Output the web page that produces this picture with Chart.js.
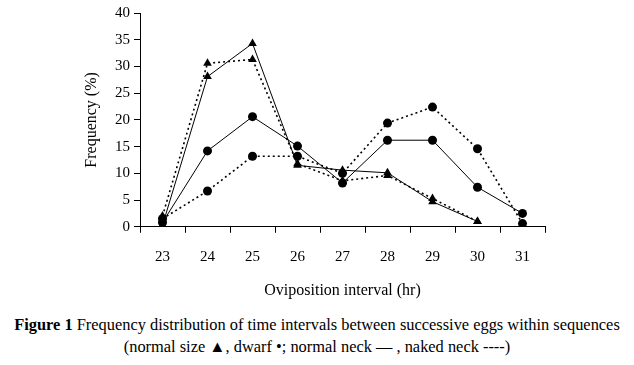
<!DOCTYPE html>
<html>
<head>
    <meta charset="utf-8">
    <title>Oviposition interval</title>
    <script src="https://cdn.jsdelivr.net/npm/chart.js@4/dist/chart.umd.min.js"></script>
    <style>
        body {
            margin: 0;
            background: #fff;
            font-family: "Liberation Serif", "Times New Roman", serif;
        }
        #wrap {
            width: 634px;
            height: 305px;
        }
        .caption {
            width: 634px;
            text-align: center;
            font-size: 16.4px;
            line-height: 22px;
            color: #000;
            margin-top: 9px;
        }
    </style>
</head>
<body>
    <div id="wrap">
        <canvas id="c1" width="634" height="305"></canvas>
    </div>
    <div class="caption">
        <b>Figure 1</b> Frequency distribution of time intervals between successive eggs within sequences<br>
        (normal size &#9650;, dwarf &#8226;; normal neck &mdash; , naked neck ----)
    </div>

    <script>
        // oviposition interval (hr)
        var labels = ["23", "24", "25", "26", "27", "28", "29", "30", "31"];

        // frequency (%)
        var normalSizeNormalNeck = [0.3, 28.1, 34.3, 11.5, 10.6, 10.1, 4.7, 1.0, null];
        var normalSizeNakedNeck = [2.0, 30.6, 31.3, 11.8, 8.6, 9.6, 5.3, 1.0, null];
        var dwarfNormalNeck = [0.8, 14.2, 20.6, 15.1, 8.2, 16.2, 16.2, 7.4, 2.5];
        var dwarfNakedNeck = [1.5, 6.7, 13.2, 13.2, 10.0, 19.4, 22.4, 14.6, 0.6];

        var yTicks = [0, 5, 10, 15, 20, 25, 30, 35, 40];

        var serif = "'Liberation Serif', 'Times New Roman', serif";

        function series(data, point, dashed) {
            return {
                data: data,
                borderColor: "#000",
                backgroundColor: "#000",
                borderWidth: dashed ? 1.6 : 1,
                borderDash: dashed ? [2, 3] : [],
                pointStyle: point,
                pointRadius: point === "triangle" ? 5 : 4.5,
                pointBorderWidth: 0,
                fill: false,
                tension: 0,
                spanGaps: false
            };
        }

        new Chart(document.getElementById("c1"), {
            type: "line",
            data: {
                labels: labels,
                datasets: [
                    series(normalSizeNormalNeck, "triangle", false),
                    series(normalSizeNakedNeck, "triangle", true),
                    series(dwarfNormalNeck, "circle", false),
                    series(dwarfNakedNeck, "circle", true)
                ]
            },
            options: {
                responsive: false,
                animation: false,
                layout: {
                    padding: { left: 82, right: 89, top: 12, bottom: 5 }
                },
                plugins: {
                    legend: { display: false },
                    tooltip: { enabled: false }
                },
                scales: {
                    x: {
                        offset: true,
                        grid: {
                            display: true,
                            offset: true,
                            drawOnChartArea: false,
                            drawTicks: true,
                            tickLength: 6,
                            color: "#000"
                        },
                        border: { color: "#000", width: 1 },
                        ticks: {
                            color: "#000",
                            padding: 15,
                            maxRotation: 0,
                            font: { family: serif, size: 15 }
                        },
                        title: {
                            display: true,
                            text: "Oviposition interval (hr)",
                            color: "#000",
                            padding: { top: 0, bottom: 0 },
                            font: { family: serif, size: 16 }
                        }
                    },
                    y: {
                        min: 0,
                        max: 40,
                        afterBuildTicks: function(scale) {
                            scale.ticks = yTicks.map(function(v) { return { value: v }; });
                        },
                        afterFit: function(scale) {
                            scale.width = 58;
                        },
                        grid: {
                            display: true,
                            drawOnChartArea: false,
                            drawTicks: true,
                            tickLength: 6,
                            color: "#000"
                        },
                        border: { color: "#000", width: 1 },
                        ticks: {
                            color: "#000",
                            padding: 4,
                            font: { family: serif, size: 15 }
                        },
                        title: {
                            display: true,
                            text: "Frequency (%)",
                            color: "#000",
                            padding: { top: 0, bottom: 0 },
                            font: { family: serif, size: 16 }
                        }
                    }
                }
            }
        });
    </script>
</body>
</html>
